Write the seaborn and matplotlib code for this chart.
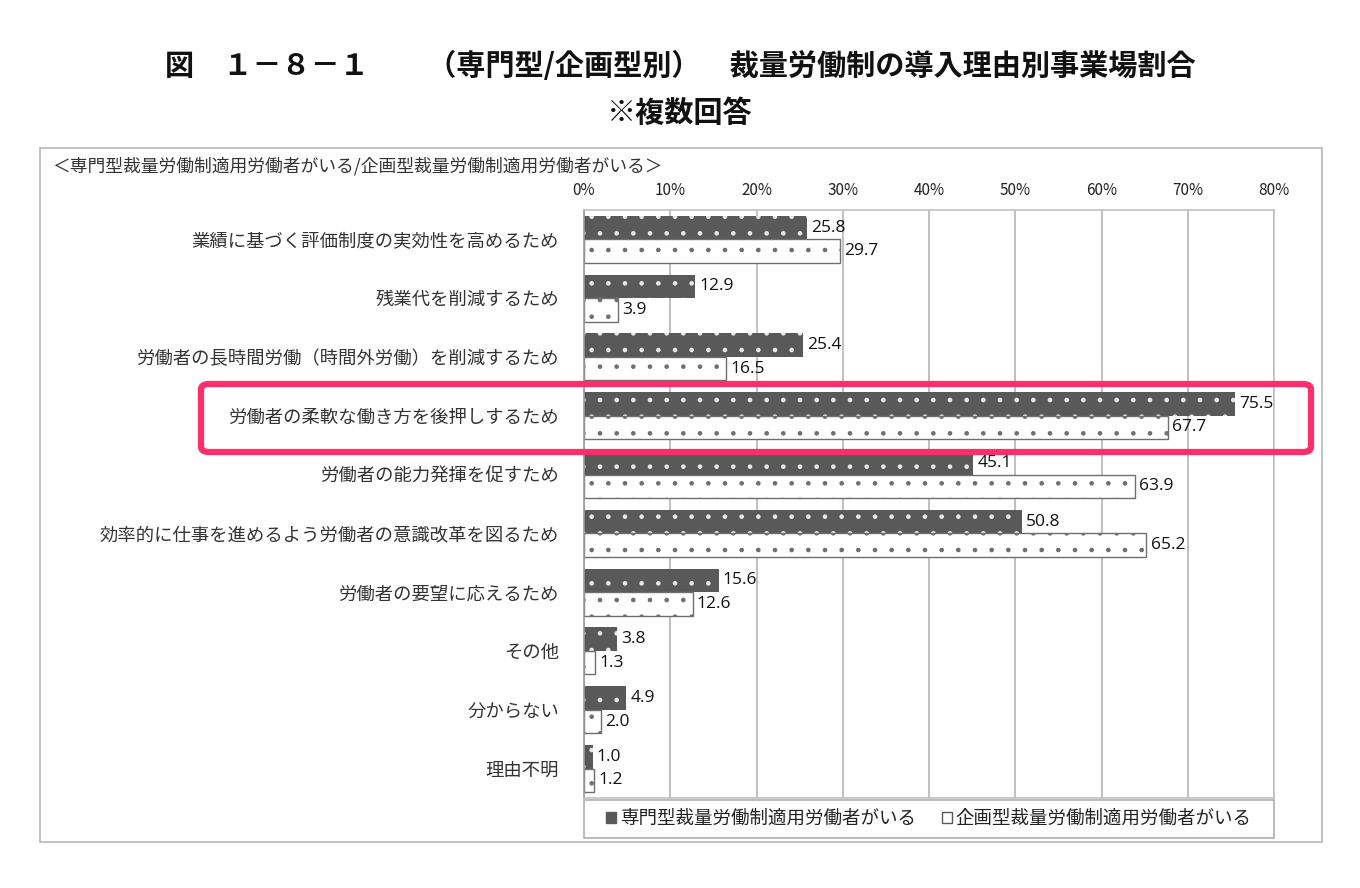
import matplotlib
matplotlib.use('Agg')
import matplotlib.pyplot as plt
from matplotlib.patches import Rectangle, FancyBboxPatch
import numpy as np
import pandas as pd
import seaborn as sns

# data
categories = [
    '業績に基づく評価制度の実効性を高めるため',
    '残業代を削減するため',
    '労働者の長時間労働（時間外労働）を削減するため',
    '労働者の柔軟な働き方を後押しするため',
    '労働者の能力発揮を促すため',
    '効率的に仕事を進めるよう労働者の意識改革を図るため',
    '労働者の要望に応えるため',
    'その他',
    '分からない',
    '理由不明',
]
senmon = [25.8, 12.9, 25.4, 75.5, 45.1, 50.8, 15.6, 3.8, 4.9, 1.0]
kikaku = [29.7, 3.9, 16.5, 67.7, 63.9, 65.2, 12.6, 1.3, 2.0, 1.2]
series_names = ['専門型裁量労働制適用労働者がいる', '企画型裁量労働制適用労働者がいる']
x_ticks = [0, 10, 20, 30, 40, 50, 60, 70, 80]

df = pd.DataFrame({
    'category': categories * 2,
    'value': senmon + kikaku,
    'series': [series_names[0]] * len(categories) + [series_names[1]] * len(categories),
})

sns.set_style('white')
plt.rcParams['font.family'] = ['Noto Sans CJK JP', 'DejaVu Sans']
plt.rcParams['hatch.linewidth'] = 0.9

fig = plt.figure(figsize=(13.6, 8.88), dpi=100)
ax = fig.add_axes([0.4294, 0.1014, 0.5074, 0.6622])

sns.barplot(data=df, x='value', y='category', hue='series', order=categories,
            hue_order=series_names, orient='h', width=0.8, gap=0.0,
            palette=['#595959', '#ffffff'], ax=ax, legend=False, zorder=2)

# dotted pattern: white dots on the dark bars, gray dots on the white bars
n = len(categories)
for i, p in enumerate(ax.patches[:2 * n]):
    if i < n:
        p.set_facecolor('#595959')
        p.set_edgecolor('#e8e8e8')
        p.set_linewidth(0)
        p.set_hatch('.')
    else:
        p.set_facecolor('#ffffff')
        p.set_edgecolor('#6f6f6f')
        p.set_linewidth(1.0)
        p.set_hatch('.')

# value labels
for cont in ax.containers:
    ax.bar_label(cont, fmt='%.1f', padding=3, fontsize=12.5, color='#111111',
                 family=['Open Sans', 'DejaVu Sans'])

ax.set_xlim(0, 80)
ax.set_xticks(x_ticks)
ax.set_xticklabels([f'{t}%' for t in x_ticks], fontsize=11, color='#222222')
ax.xaxis.tick_top()
ax.tick_params(axis='x', length=0, pad=8)
ax.tick_params(axis='y', length=0, pad=18, labelsize=13.2, labelcolor='#333333')
ax.set_xlabel('')
ax.set_ylabel('')
ax.grid(axis='x', color='#b5b5b5', linewidth=1.2, zorder=0)
ax.set_axisbelow(True)
for s in ax.spines.values():
    s.set_color('#c0c0c0')
    s.set_linewidth(1.2)
ax.spines['left'].set_color('#9a9a9a')

# legend box below plot area, full axes width
ax.add_patch(Rectangle((0, -0.068), 1, 0.0646, transform=ax.transAxes, clip_on=False,
                       fill=False, edgecolor='#b0b0b0', linewidth=1.2))
handles = [
    Rectangle((0, 0), 1, 1, facecolor='#595959', edgecolor='#595959'),
    Rectangle((0, 0), 1, 1, facecolor='#ffffff', edgecolor='#595959', linewidth=1),
]
leg = ax.legend(handles, series_names, loc='center', bbox_to_anchor=(0.5, -0.036),
                ncol=2, fontsize=13.3, frameon=False,
                handlelength=0.55, handleheight=0.55, handletextpad=0.2, columnspacing=1.4)
for t in leg.get_texts():
    t.set_color('#222222')

# outer frame
fig.patches.append(Rectangle((40 / 1360, 1 - 842 / 888), 1282 / 1360, 694 / 888,
                             transform=fig.transFigure, fill=False,
                             edgecolor='#b8b8b8', linewidth=1.2))

# highlight box
fig.patches.append(FancyBboxPatch((201 / 1360, 1 - 452 / 888), 1110 / 1360, 68 / 888,
                                  boxstyle='round,pad=0,rounding_size=0.006',
                                  transform=fig.transFigure, fill=False,
                                  edgecolor='#fb2f6b', linewidth=4.5, zorder=10))

fig.text(52 / 1360, 1 - 166 / 888,
         '＜専門型裁量労働制適用労働者がいる/企画型裁量労働制適用労働者がいる＞',
         fontsize=12.8, color='#333333', va='center', ha='left')

fig.text(0.5, 1 - 66 / 888,
         '図　１－８－１　　（専門型/企画型別）　裁量労働制の導入理由別事業場割合',
         fontsize=21, fontweight='bold', ha='center', va='center', color='#111111')
fig.text(0.5, 1 - 113 / 888, '※複数回答',
         fontsize=21, fontweight='bold', ha='center', va='center', color='#111111')

fig.savefig('out.png', dpi=100)
plt.close(fig)
